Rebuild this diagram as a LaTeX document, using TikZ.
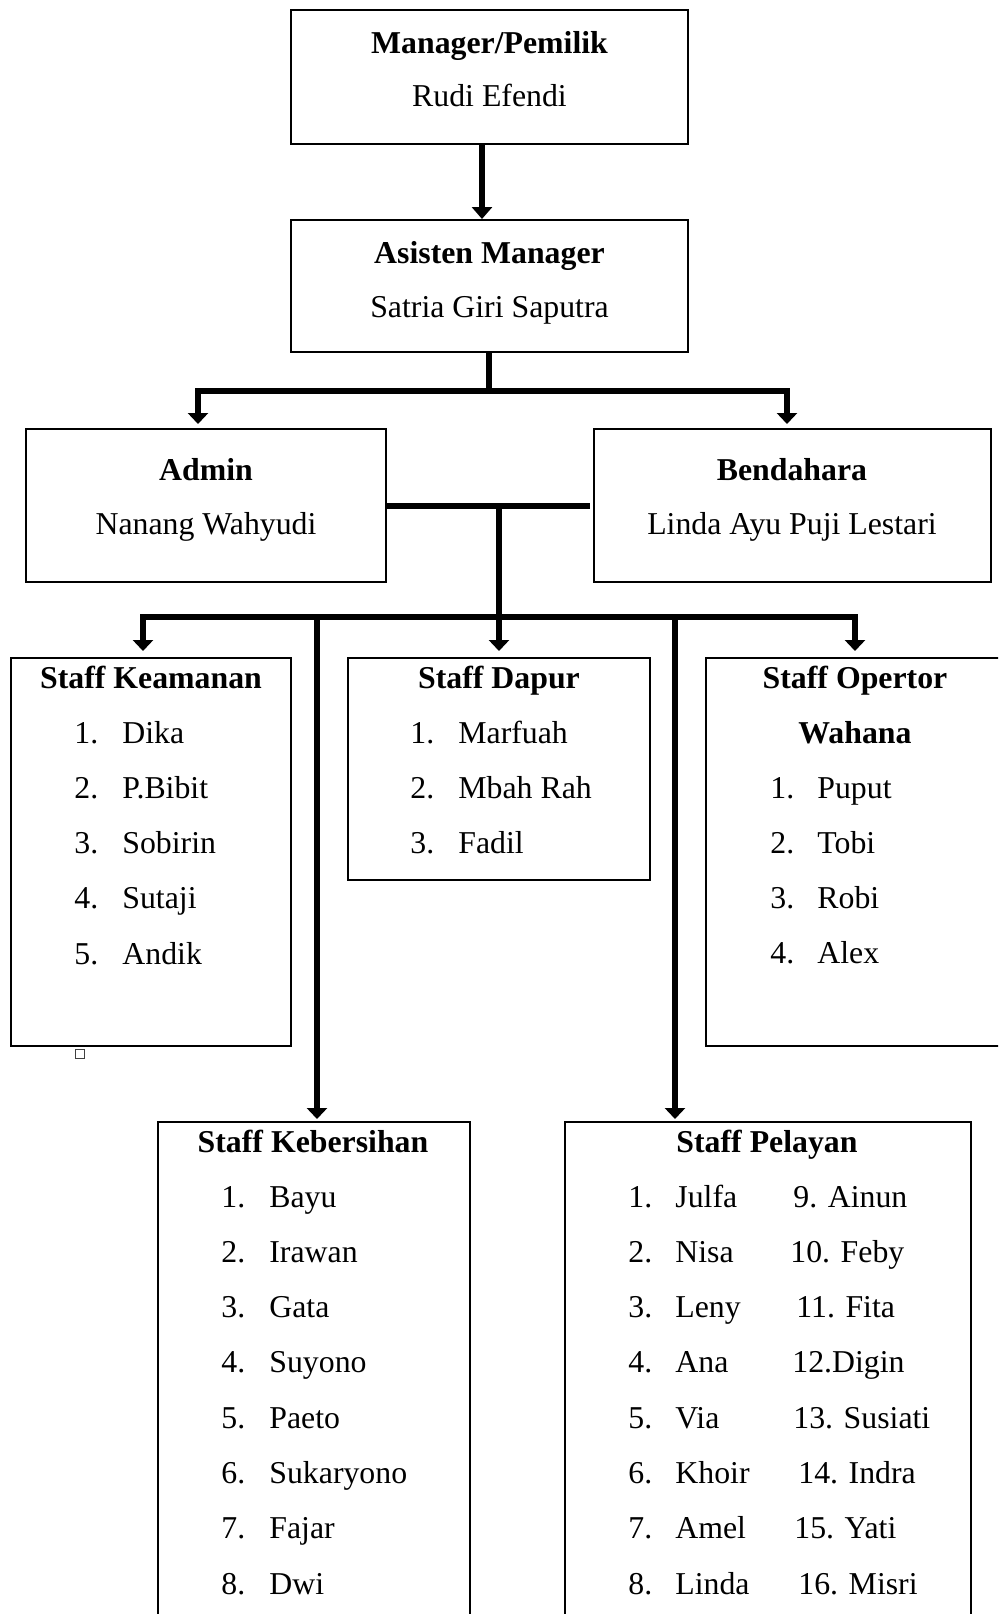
\documentclass[tikz,border=0pt]{standalone}
\usepackage{fontspec}
\setmainfont{Liberation Serif}
\usetikzlibrary{arrows.meta}
\begin{document}
\begin{tikzpicture}[x=0.5pt,y=-0.5pt,
  box/.style={draw, line width=1pt, inner sep=0pt, fill=white},
  conn/.style={line width=2.7pt},
  arr/.style={conn, -{Triangle[width=10pt,length=5.5pt]}},
  titletext/.style={font=\fontsize{15.9}{19}\selectfont\bfseries, anchor=base},
  nametext/.style={font=\fontsize{15.9}{19}\selectfont, anchor=base},
  itemtext/.style={font=\fontsize{15.9}{19}\selectfont, anchor=base west, inner sep=0pt},
]
\useasboundingbox (0,0) rectangle (998,1614);
\clip (0,0) rectangle (998,1614);

% ---------- boxes ----------
\node[box, minimum width=198.5pt, minimum height=67pt]  (mgr) at (489.5,77)   {};
\node[box, minimum width=198.5pt, minimum height=66pt]  (ast) at (489.5,286)  {};
\node[box, minimum width=180pt,   minimum height=76.5pt] (adm) at (206,505.5)  {};
\node[box, minimum width=198.5pt, minimum height=76.5pt] (bnd) at (792.5,505.5) {};
\node[box, minimum width=140pt,   minimum height=194pt] (kea) at (151,852)    {};
\node[box, minimum width=151pt,   minimum height=111pt] (dap) at (499,769)    {};
\node[box, minimum width=152pt,   minimum height=194pt] (opr) at (858,852)    {};
\node[box, minimum width=156pt,   minimum height=269pt] (keb) at (314,1391)   {};
\node[box, minimum width=203pt,   minimum height=269pt] (pel) at (768,1391)   {};
\node[draw=black!75, line width=0.5pt, minimum size=4.5pt, inner sep=0pt] (sq) at (80,1053.5) {};

% ---------- junction points ----------
\coordinate (ta) at (482,0);
\coordinate (j1) at (489,391);
\coordinate (jL) at (198,391);
\coordinate (jR) at (787,391);
\coordinate (m)  at (499,506);
\coordinate (s)  at (499,617);
\coordinate (sL) at (143,617);
\coordinate (sR) at (855,617);
\coordinate (k)  at (317,617);
\coordinate (p)  at (675,617);

% ---------- connectors ----------
\draw[line width=3.4pt, -{Triangle[width=10pt,length=6pt]}] (mgr.south -| ta) -- (ast.north -| ta);

\draw[conn] (ast.south -| j1) -- (j1);
\draw[conn, line cap=rect] (jL) -- (jR);
\draw[arr, shorten >=2pt] (jL) -- (adm.north -| jL);
\draw[arr, shorten >=2pt] (jR) -- (bnd.north -| jR);

\draw[conn, shorten >=1.5pt] (adm.east |- m) -- (bnd.west |- m);
\draw[conn] (m) -- (s);
\draw[conn, line cap=rect] (sL) -- (sR);
\draw[arr, shorten >=3pt] (sL) -- (kea.north -| sL);
\draw[arr, shorten >=3pt] (s)  -- (dap.north -| s);
\draw[arr, shorten >=3pt] (sR) -- (opr.north -| sR);
\draw[arr, shorten >=1pt] (k)  -- (keb.north -| k);
\draw[arr, shorten >=1pt] (p)  -- (pel.north -| p);

% ---------- texts ----------
\node[titletext] (mgrT) at (489.5,53)  {Manager/Pemilik};
\node[nametext]  (mgrN) at (489.5,106) {Rudi Efendi};
\node[titletext] (astT) at (489.5,263) {Asisten Manager};
\node[nametext]  (astN) at (489.5,317) {Satria Giri Saputra};
\node[titletext] (admT) at (206,480)   {Admin};
\node[nametext]  (admN) at (206,534)   {Nanang Wahyudi};
\node[titletext] (bndT) at (792,480)   {Bendahara};
\node[nametext]  (bndN) at (792,534)   {Linda Ayu Puji Lestari};

\node[titletext] (keaT) at (151,688) {Staff Keamanan};
\foreach \t [count=\i] in {Dika,P.Bibit,Sobirin,Sutaji,Andik} {
  \node[itemtext] (keaN\i) at (74,{743+(\i-1)*55.3})  {\i.};
  \node[itemtext] (keaT\i) at (122,{743+(\i-1)*55.3}) {\t};
}

\node[titletext] (dapT) at (499,688) {Staff Dapur};
\foreach \t [count=\i] in {Marfuah,Mbah Rah,Fadil} {
  \node[itemtext] (dapN\i) at (410,{743+(\i-1)*55.3}) {\i.};
  \node[itemtext] (dapT\i) at (458,{743+(\i-1)*55.3}) {\t};
}

\node[titletext] (oprT) at (855,688) {Staff Opertor};
\node[titletext] (oprW) at (855,743) {Wahana};
\foreach \t [count=\i] in {Puput,Tobi,Robi,Alex} {
  \node[itemtext] (oprN\i) at (770,{798+(\i-1)*55.3}) {\i.};
  \node[itemtext] (oprT\i) at (817,{798+(\i-1)*55.3}) {\t};
}

\node[titletext] (kebT) at (313,1152) {Staff Kebersihan};
\foreach \t [count=\i] in {Bayu,Irawan,Gata,Suyono,Paeto,Sukaryono,Fajar,Dwi} {
  \node[itemtext] (kebN\i) at (221,{1207+(\i-1)*55.3}) {\i.};
  \node[itemtext] (kebT\i) at (269,{1207+(\i-1)*55.3}) {\t};
}

\node[titletext] (pelT) at (767,1152) {Staff Pelayan};
\foreach \t [count=\i] in {Julfa,Nisa,Leny,Ana,Via,Khoir,Amel,Linda} {
  \node[itemtext] (pelN\i) at (628,{1207+(\i-1)*55.3}) {\i.};
  \node[itemtext] (pelT\i) at (675,{1207+(\i-1)*55.3}) {\t};
}
\foreach \x/\t [count=\i] in {793/9. Ainun,790/10. Feby,796/11. Fita,792/12.Digin,793/13. Susiati,798/14. Indra,794/15. Yati,798/16. Misri} {
  \node[itemtext] (pelB\i) at (\x,{1207+(\i-1)*55.3}) {\t};
}
\end{tikzpicture}
\end{document}
